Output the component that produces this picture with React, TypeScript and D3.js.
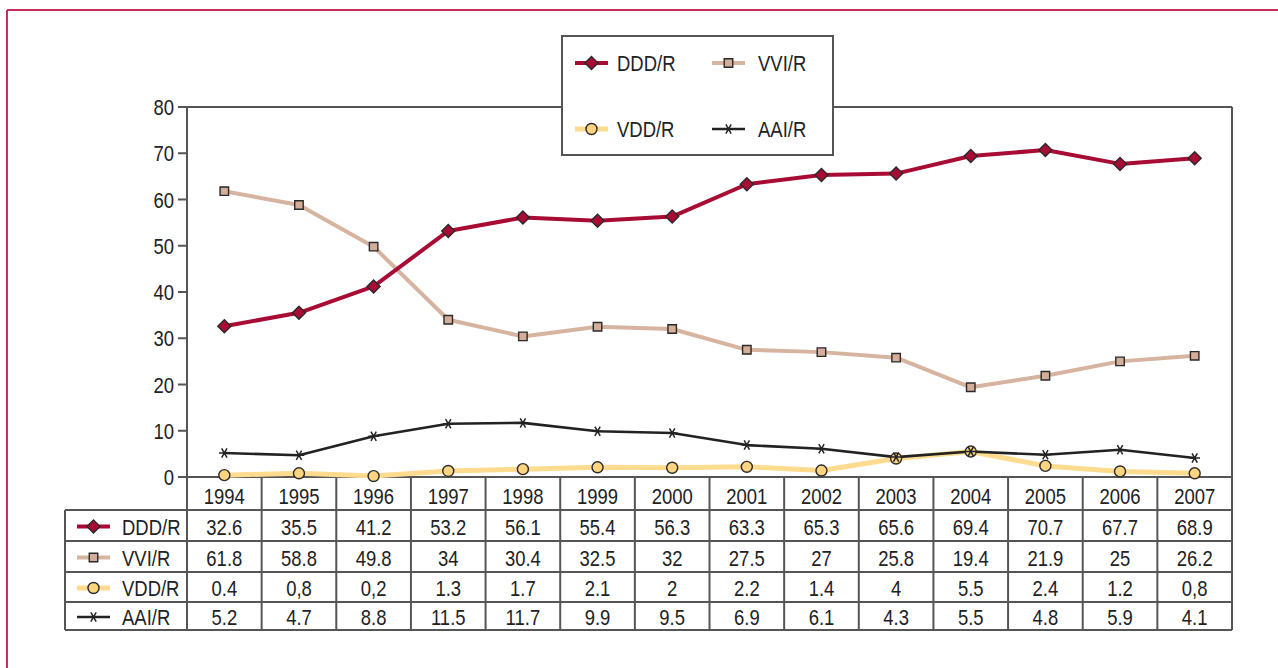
import { line, scaleLinear, scaleBand, symbol, symbolSquare, symbolCircle, symbolAsterisk } from "d3";

const years = ["1994", "1995", "1996", "1997", "1998", "1999", "2000", "2001", "2002", "2003", "2004", "2005", "2006", "2007"];
const yTicks = [0, 10, 20, 30, 40, 50, 60, 70, 80];

const ddd = [32.6, 35.5, 41.2, 53.2, 56.1, 55.4, 56.3, 63.3, 65.3, 65.6, 69.4, 70.7, 67.7, 68.9];
const vvi = [61.8, 58.8, 49.8, 34, 30.4, 32.5, 32, 27.5, 27, 25.8, 19.4, 21.9, 25, 26.2];
const vdd = [0.4, 0.8, 0.2, 1.3, 1.7, 2.1, 2, 2.2, 1.4, 4, 5.5, 2.4, 1.2, 0.8];
const aai = [5.2, 4.7, 8.8, 11.5, 11.7, 9.9, 9.5, 6.9, 6.1, 4.3, 5.5, 4.8, 5.9, 4.1];

// labels as printed in the table (some use a decimal comma)
const dddLabels = ["32.6", "35.5", "41.2", "53.2", "56.1", "55.4", "56.3", "63.3", "65.3", "65.6", "69.4", "70.7", "67.7", "68.9"];
const vviLabels = ["61.8", "58.8", "49.8", "34", "30.4", "32.5", "32", "27.5", "27", "25.8", "19.4", "21.9", "25", "26.2"];
const vddLabels = ["0.4", "0,8", "0,2", "1.3", "1.7", "2.1", "2", "2.2", "1.4", "4", "5.5", "2.4", "1.2", "0,8"];
const aaiLabels = ["5.2", "4.7", "8.8", "11.5", "11.7", "9.9", "9.5", "6.9", "6.1", "4.3", "5.5", "4.8", "5.9", "4.1"];

type Series = {
  name: string;
  values: number[];
  labels: string[];
  color: string;
  width: number;
  marker: "diamond" | "square" | "circle" | "star";
  fill: string;
};

const series: Series[] = [
  { name: "DDD/R", values: ddd, labels: dddLabels, color: "#a80c35", width: 4, marker: "diamond", fill: "#a80c35" },
  { name: "VVI/R", values: vvi, labels: vviLabels, color: "#d6b4a0", width: 4, marker: "square", fill: "#d4ae98" },
  { name: "VDD/R", values: vdd, labels: vddLabels, color: "#fedb8e", width: 5, marker: "circle", fill: "#fdd47f" },
  { name: "AAI/R", values: aai, labels: aaiLabels, color: "#222222", width: 2.6, marker: "star", fill: "none" },
];

const FONT = '"Liberation Sans", Arial, sans-serif';
const INK = "#222";
const FRAME = "#555";
const SQUEEZE = 0.84; // condensed look

function Txt({ x, y, anchor = "start", children }: { x: number; y: number; anchor?: "start" | "middle" | "end"; children: string | number }) {
  return (
    <g transform={`translate(${x},${y}) scale(${SQUEEZE},1)`}>
      <text dy="0.37em" textAnchor={anchor} fontFamily={FONT} fontSize={22} fill={INK}>
        {children}
      </text>
    </g>
  );
}

function Marker({ kind, x, y, fill }: { kind: Series["marker"]; x: number; y: number; fill: string }) {
  if (kind === "star") {
    return (
      <path
        d={symbol().type(symbolAsterisk).size(80)() ?? ""}
        transform={`translate(${x},${y}) rotate(90)`}
        fill="none"
        stroke="#222"
        strokeWidth={1.5}
      />
    );
  }
  if (kind === "diamond") {
    return (
      <path
        d={symbol().type(symbolSquare).size(85)() ?? ""}
        transform={`translate(${x},${y}) rotate(45)`}
        fill={fill}
        stroke="#2a2a2a"
        strokeWidth={1.4}
      />
    );
  }
  const type = kind === "square" ? symbolSquare : symbolCircle;
  const size = kind === "square" ? 72 : 95;
  return (
    <path
      d={symbol().type(type).size(size)() ?? ""}
      transform={`translate(${x},${y})`}
      fill={fill}
      stroke="#2a2a2a"
      strokeWidth={1.4}
    />
  );
}

function LegendKey({ s, x, y }: { s: Series; x: number; y: number }) {
  return (
    <g>
      <line x1={x} x2={x + 33} y1={y} y2={y} stroke={s.color} strokeWidth={s.width} />
      <Marker kind={s.marker} x={x + 16.5} y={y} fill={s.fill} />
    </g>
  );
}

export default function App() {
  const width = 1278;
  const height = 668;
  const left = 187;
  const right = 1232;
  const top = 107;
  const bottom = 477;
  const tableLeft = 65;
  const rowEdges = [477, 510, 541, 572, 602, 630];

  const x = scaleBand<string>().domain(years).range([left, right]);
  const y = scaleLinear().domain([0, 80]).range([bottom, top]);
  const cx = (yr: string) => (x(yr) ?? 0) + x.bandwidth() / 2;

  const pathFor = (values: number[]) =>
    line<number>()
      .x((_, i) => cx(years[i]))
      .y((v) => y(v))(values) ?? "";

  const drawOrder = [series[1], series[2], series[3], series[0]];

  return (
    <div style={{ position: "absolute", left: 0, top: 0 }}>
      <svg width={width} height={height} viewBox={`0 0 ${width} ${height}`} style={{ display: "block", background: "#fff" }}>
        {/* outer border */}
        <line x1={7} x2={width} y1={10} y2={10} stroke="#c4305a" strokeWidth={2} />
        <line x1={7} x2={7} y1={10} y2={height} stroke="#c4305a" strokeWidth={2} />

        {/* plot frame */}
        <line x1={left - 9} x2={right} y1={top} y2={top} stroke={FRAME} strokeWidth={2} />
        <line x1={right} x2={right} y1={top} y2={rowEdges[5]} stroke={FRAME} strokeWidth={2} />
        <line x1={left} x2={left} y1={top} y2={rowEdges[5]} stroke={FRAME} strokeWidth={2} />

        {/* y ticks */}
        {yTicks.map((t) => (
          <g key={t}>
            <line x1={left - 9} x2={left} y1={y(t)} y2={y(t)} stroke={FRAME} strokeWidth={2} />
            <Txt x={left - 13} y={y(t)} anchor="end">{t}</Txt>
          </g>
        ))}

        {/* table grid */}
        <line x1={left - 9} x2={right} y1={rowEdges[0]} y2={rowEdges[0]} stroke={FRAME} strokeWidth={2} />
        {rowEdges.slice(1).map((ry) => (
          <line key={ry} x1={tableLeft} x2={right} y1={ry} y2={ry} stroke={FRAME} strokeWidth={2} />
        ))}
        <line x1={tableLeft} x2={tableLeft} y1={rowEdges[1]} y2={rowEdges[5]} stroke={FRAME} strokeWidth={2} />
        {years.slice(1).map((yr) => (
          <line key={yr} x1={x(yr) ?? 0} x2={x(yr) ?? 0} y1={rowEdges[0]} y2={rowEdges[5]} stroke={FRAME} strokeWidth={2} />
        ))}

        {/* year header */}
        {years.map((yr) => (
          <Txt key={yr} x={cx(yr)} y={(rowEdges[0] + rowEdges[1]) / 2 + 2} anchor="middle">{yr}</Txt>
        ))}

        {/* table rows */}
        {series.map((s, r) => {
          const my = (rowEdges[r + 1] + rowEdges[r + 2]) / 2 + 1;
          return (
            <g key={s.name}>
              <LegendKey s={s} x={77} y={my} />
              <Txt x={122} y={my}>{s.name}</Txt>
              {s.labels.map((lab, i) => (
                <Txt key={i} x={cx(years[i])} y={my} anchor="middle">{lab}</Txt>
              ))}
            </g>
          );
        })}

        {/* lines */}
        {drawOrder.map((s) => (
          <path key={s.name} d={pathFor(s.values)} fill="none" stroke={s.color} strokeWidth={s.width} strokeLinejoin="round" />
        ))}
        {drawOrder.map((s) => (
          <g key={s.name + "-m"}>
            {s.values.map((v, i) => (
              <Marker key={i} kind={s.marker} x={cx(years[i])} y={y(v)} fill={s.fill} />
            ))}
          </g>
        ))}

        {/* legend */}
        <rect x={562} y={36} width={271} height={119} fill="#fff" stroke={FRAME} strokeWidth={2} />
        {series.map((s, i) => {
          const lx = i % 2 === 0 ? 575 : 712;
          const ly = i < 2 ? 63 : 129;
          return (
            <g key={s.name + "-lg"}>
              <LegendKey s={s} x={lx} y={ly} />
              <Txt x={lx + (i % 2 === 0 ? 42 : 46)} y={ly}>{s.name}</Txt>
            </g>
          );
        })}
      </svg>
    </div>
  );
}
